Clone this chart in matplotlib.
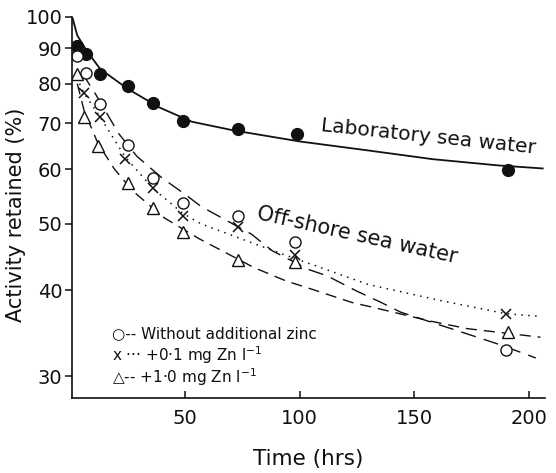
import matplotlib
matplotlib.use("Agg")
import matplotlib.pyplot as plt
from matplotlib.ticker import FixedLocator, NullLocator, FixedFormatter

# ---- data ----
# Laboratory sea water (filled circles)
lab_t = [3, 7, 13, 25, 36, 49, 73, 99, 191]
lab_v = [90.7, 88.2, 82.5, 79.4, 75.0, 70.5, 68.8, 67.5, 59.8]
# fitted curve through laboratory data
lab_fit_t = [1, 3, 7, 13, 25, 39, 53, 71, 100, 129, 158, 187, 206]
lab_fit_v = [99.5, 94.0, 89.4, 84.0, 78.6, 73.8, 70.4, 68.4, 65.9, 64.0, 62.1, 60.8, 60.2]

# Off-shore sea water, without additional zinc (open circles)
none_t = [3, 7, 13, 25, 36, 49, 73, 98, 190]
none_v = [87.6, 83.0, 74.7, 65.1, 58.3, 53.6, 51.3, 47.1, 32.8]
none_fit_t = [5, 11, 16, 21, 29, 40, 50, 57, 79, 88, 104, 112, 125, 135, 144, 166, 188, 203]
none_fit_v = [83.0, 77.2, 72.3, 67.7, 62.7, 58.3, 55.2, 53.0, 48.3, 45.7, 42.9, 42.0,
              39.9, 38.5, 37.2, 35.2, 33.3, 31.9]

# +0.1 mg Zn/l (crosses)
zn01_t = [6, 13, 24, 36, 49, 73, 98, 190]
zn01_v = [77.4, 71.5, 62.2, 56.3, 51.3, 49.5, 45.0, 37.0]
zn01_fit_t = [4, 6, 13, 24, 36, 49, 57, 90, 130, 161, 190, 204]
zn01_fit_v = [80.0, 77.4, 71.5, 62.5, 56.3, 51.8, 50.0, 45.5, 40.8, 38.7, 37.0, 36.7]

# +1.0 mg Zn/l (triangles)
zn10_t = [3, 6, 12, 25, 36, 49, 73, 98, 191]
zn10_v = [82.5, 71.5, 64.8, 57.4, 52.8, 48.6, 44.3, 44.0, 34.8]
zn10_fit_t = [3, 6, 12, 19, 27, 41, 56, 80, 94, 106, 123, 132, 157, 173, 205]
zn10_fit_v = [80.0, 73.0, 65.5, 60.2, 55.9, 51.0, 47.6, 43.2, 41.3, 40.1, 38.4, 37.8,
              36.1, 35.2, 34.2]

y_ticks = [30, 40, 50, 60, 70, 80, 90, 100]
x_ticks = [50, 100, 150, 200]

legend_labels = ["\u25cb-- Without additional zinc",
                 "x \u00b7\u00b7\u00b7 +0\u00b71 mg Zn l$^{-1}$",
                 "\u25b3-- +1\u00b70 mg Zn l$^{-1}$"]

# ---- figure ----
plt.rcParams['font.family'] = ['DejaVu Sans']
fig = plt.figure(figsize=(5.56, 4.73), dpi=100)
ax = fig.add_axes([0.1295, 0.1586, 0.8507, 0.8055])

ink = '#111111'
ax.plot(lab_fit_t, lab_fit_v, '-', color=ink, lw=1.3)
ax.plot(lab_t, lab_v, 'o', color=ink, ms=8.5, mfc=ink, mec=ink)

ax.plot(none_fit_t, none_fit_v, color=ink, lw=1.0, linestyle=(0, (11, 6)))
ax.plot(zn01_fit_t, zn01_fit_v, color=ink, lw=1.1, linestyle=(0, (1, 3.5)))
ax.plot(zn10_fit_t, zn10_fit_v, color=ink, lw=1.0, linestyle=(0, (8, 5)))

ax.plot(none_t, none_v, 'o', ms=8, mfc='white', mec=ink, mew=1.0)
ax.plot(zn01_t, zn01_v, 'x', ms=6.5, color=ink, mew=1.1)
ax.plot(zn10_t, zn10_v, '^', ms=9, mfc='white', mec=ink, mew=1.0)

ax.set_yscale('log')
ax.set_ylim(27.9, 100)
ax.set_xlim(0.7, 207)

ax.yaxis.set_major_locator(FixedLocator(y_ticks))
ax.yaxis.set_major_formatter(FixedFormatter([str(v) for v in y_ticks]))
ax.yaxis.set_minor_locator(NullLocator())
ax.xaxis.set_major_locator(FixedLocator(x_ticks))
ax.xaxis.set_minor_locator(NullLocator())

ax.tick_params(axis='y', direction='out', length=5, width=1.1, pad=2,
               labelsize=14, colors=ink)
ax.tick_params(axis='x', direction='in', length=5, width=1.1, pad=8,
               labelsize=14, colors=ink)

for s in ['top', 'right']:
    ax.spines[s].set_visible(False)
for s in ['left', 'bottom']:
    ax.spines[s].set_linewidth(1.2)
    ax.spines[s].set_color(ink)

ax.set_xlabel('Time (hrs)', fontsize=15.5, color=ink, labelpad=15)
ax.set_ylabel('Activity retained (%)', fontsize=15, color=ink)
ax.yaxis.set_label_coords(-0.097, 0.48)

ax.text(0.753, 0.685, 'Laboratory sea water', transform=ax.transAxes,
        fontsize=14.5, rotation=-6, ha='center', va='center',
        rotation_mode='anchor', color=ink)
ax.text(0.603, 0.428, 'Off-shore sea water', transform=ax.transAxes,
        fontsize=15, rotation=-12.5, ha='center', va='center',
        rotation_mode='anchor', color=ink)

for lab, yy in zip(legend_labels, [0.170, 0.112, 0.054]):
    ax.text(0.085, yy, lab, transform=ax.transAxes, fontsize=11,
            ha='left', va='center', color=ink)

fig.savefig('out.png', dpi=100, facecolor='white')
